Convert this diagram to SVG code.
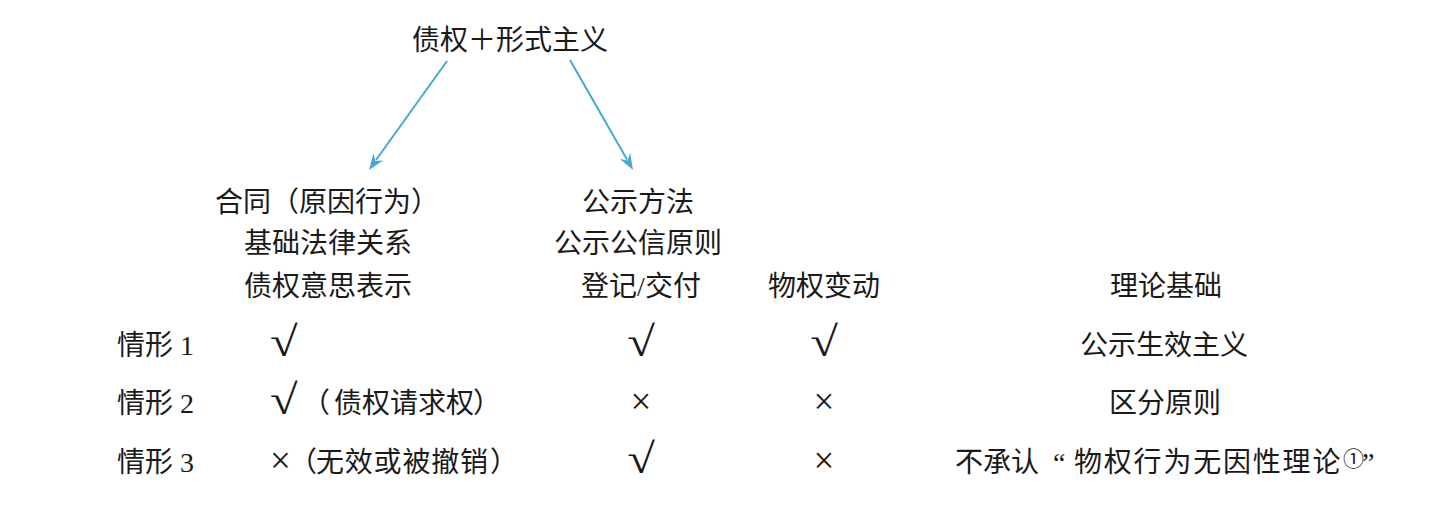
<svg xmlns="http://www.w3.org/2000/svg" width="1446" height="524" viewBox="0 0 1446 524">
<style>
text{font-family:"Liberation Serif","Noto Sans CJK SC",serif;font-size:28px;fill:#1a1a1a}
.c{text-anchor:middle}
.s{font-family:"Noto Sans CJK SC",sans-serif}
.ck{font-family:"Liberation Serif",serif;font-size:42px}
.x{font-family:"Liberation Serif",serif;font-size:37px}
.conn{stroke:#45a8d6;stroke-width:2;fill:none}
.head{fill:#45a8d6}
</style>
<rect width="1446" height="524" fill="#fff"/>
<g id="connectors">
<line class="conn" x1="447" y1="61" x2="376" y2="160"/>
<path class="head" d="M369,170 L373.4,153.5 L375.4,161.1 L383.2,160.5 Z"/>
<line class="conn" x1="570" y1="60" x2="627" y2="159.5"/>
<path class="head" d="M633,170 L619.8,159.1 L627.5,160.5 L630.2,153.1 Z"/>
</g>
<g id="top"><text class="c" x="510" y="50">债权＋形式主义</text></g>
<g id="col1-head">
<text class="c" x="327" y="212">合同（原因行为）</text>
<text class="c" x="328" y="253">基础法律关系</text>
<text class="c" x="328" y="296">债权意思表示</text>
</g>
<g id="col2-head">
<text class="c" x="638" y="212">公示方法</text>
<text class="c" x="638" y="253">公示公信原则</text>
<text class="c" x="641" y="296">登记/交付</text>
</g>
<g id="col3-head"><text class="c" x="824" y="296">物权变动</text></g>
<g id="col4-head"><text class="c" x="1166" y="296">理论基础</text></g>
<g id="row1">
<text x="117" y="355">情形 1</text>
<text class="ck" transform="translate(270,356) scale(1.2,1)">√</text>
<text class="c ck" transform="translate(641,356) scale(1.2,1)">√</text>
<text class="c ck" transform="translate(824,356) scale(1.2,1)">√</text>
<text class="c" x="1164" y="355">公示生效主义</text>
</g>
<g id="row2">
<text x="117" y="413">情形 2</text>
<text class="ck" transform="translate(270,414) scale(1.2,1)">√</text>
<text class="s" y="413"><tspan x="302">（</tspan><tspan x="334">债权请求权</tspan><tspan x="473">）</tspan></text>
<text class="c x" x="641" y="414">×</text>
<text class="c x" x="824" y="414">×</text>
<text class="c" x="1165" y="413">区分原则</text>
</g>
<g id="row3">
<text x="117" y="472">情形 3</text>
<text class="x" x="270" y="473">×</text>
<text class="s" y="472"><tspan x="289">（</tspan><tspan x="316" letter-spacing="0.8">无效或被撤销</tspan><tspan x="490">）</tspan></text>
<text class="c ck" transform="translate(641,473) scale(1.2,1)">√</text>
<text class="c x" x="824" y="473">×</text>
<text y="472"><tspan class="s" x="955">不承认</tspan><tspan x="1053">“</tspan><tspan class="s" x="1074" letter-spacing="1.8">物权行为无因性理论</tspan><tspan class="s" x="1343" y="466" font-size="21">①</tspan><tspan x="1362" y="472">”</tspan></text>
</g>
</svg>
